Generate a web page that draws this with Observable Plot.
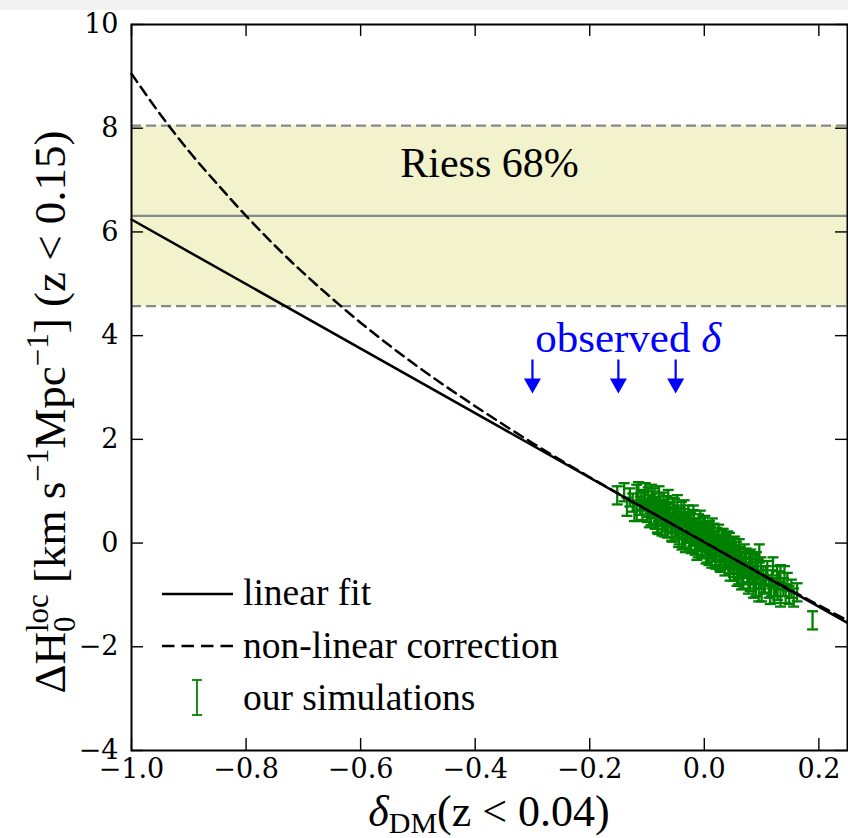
<!DOCTYPE html>
<html><head><meta charset="utf-8">
<script src="https://cdn.jsdelivr.net/npm/d3@7"></script>
<script src="https://cdn.jsdelivr.net/npm/@observablehq/plot@0.6"></script>
<style>
html,body{margin:0;padding:0;background:#f2f2f2;width:848px;height:838px;overflow:hidden;}
#bg{position:absolute;left:0;top:10px;width:848px;height:828px;background:#fff;}
#chart{position:absolute;left:0;top:0;width:848px;height:838px;}
</style></head><body><div id="bg"></div><div id="chart"></div>
<script>
// ---- data ----
const xDomain = [-1.0, 0.25];
const yDomain = [-4, 10];
const xTicks = [-1.0, -0.8, -0.6, -0.4, -0.2, 0.0, 0.2];
const yTicks = [-4, -2, 0, 2, 4, 6, 8, 10];

const fitDelta = [-1.0, 0.25];
const fitDH0 = [6.24, -1.54];

const nlDelta = [-1.0, -0.95, -0.9, -0.85, -0.8, -0.75, -0.7, -0.6, -0.5, -0.4, -0.3, -0.2, -0.1, 0.0, 0.1, 0.2, 0.25];
const nlDH0 = [9.05, 8.27, 7.56, 6.92, 6.31, 5.74, 5.21, 4.25, 3.40, 2.64, 1.93, 1.27, 0.64, 0.02, -0.60, -1.20, -1.49];

const riessCenter = 6.31;
const riessLow = 4.57;
const riessHigh = 8.05;

const observedDelta = [-0.30, -0.15, -0.05];

const simDelta = [
 -0.152,-0.125,-0.118,-0.112,-0.108,-0.105,-0.100,-0.098,
 -0.095,-0.093,-0.090,-0.088,-0.086,-0.084,-0.082,-0.080,-0.078,-0.076,-0.074,-0.072,-0.070,-0.068,-0.066,-0.064,-0.062,-0.060,-0.058,-0.056,-0.054,-0.052,-0.050,
 -0.048,-0.046,-0.044,-0.042,-0.040,-0.038,-0.036,-0.034,-0.032,-0.030,-0.028,-0.026,-0.024,-0.022,-0.020,-0.018,-0.016,-0.014,-0.012,-0.010,-0.008,-0.006,-0.004,-0.002,
 0.000,0.002,0.004,0.006,0.008,0.010,0.012,0.014,0.016,0.018,0.020,0.022,0.024,0.026,0.028,0.030,0.032,0.034,0.036,0.038,0.040,0.042,0.044,0.046,0.048,
 0.050,0.052,0.054,0.056,0.058,0.060,0.062,0.064,0.066,0.068,0.070,0.072,0.075,0.078,0.080,0.082,0.085,0.088,0.090,0.093,0.096,0.098,
 0.100,0.103,0.106,0.110,0.113,0.118,0.122,0.127,0.133,0.133,0.138,0.145,0.148,0.156,0.162,
 -0.140,-0.135,-0.130,-0.122,-0.115,-0.110,-0.103,-0.097,-0.092,-0.087,-0.083,-0.079,-0.075,-0.071,-0.067,-0.063,-0.059,-0.055,-0.051,-0.047,-0.043,-0.039,-0.035,-0.031,-0.027,-0.023,-0.019,-0.015,-0.011,-0.007,-0.003,
 0.001,0.005,0.009,0.013,0.017,0.021,0.025,0.029,0.033,0.037,0.041,0.045,0.049,0.053,0.057,0.061,0.065,0.069,0.073,0.077,0.081,0.086,0.091,0.095,0.099,
 0.108,0.115,0.120,0.125,0.130,0.140,0.152,
 -0.118,-0.106,-0.096,-0.089,-0.081,-0.077,-0.069,-0.061,-0.057,-0.049,-0.045,-0.041,-0.033,-0.029,-0.025,-0.017,-0.013,-0.009,-0.005,-0.001,
 0.003,0.007,0.011,0.015,0.019,0.023,0.027,0.031,0.035,0.039,0.043,0.047,0.051,0.055,0.059,0.063,0.067,0.071,0.079,0.084,0.089,0.094,0.104,0.117,0.128,0.142,
 0.189
];
const simDH0 = [
 0.92,0.78,0.95,0.72,0.62,0.85,0.58,0.90,
 0.75,0.52,0.82,0.65,0.45,0.70,0.38,0.60,0.78,0.50,0.32,0.66,0.44,0.55,0.73,0.28,0.48,0.62,0.36,0.20,0.52,0.68,0.40,
 0.30,0.55,0.15,0.42,0.62,0.25,0.08,0.48,0.35,0.18,0.55,0.02,0.40,0.28,0.12,0.46,-0.05,0.30,0.18,0.38,0.02,0.24,-0.12,0.32,
 0.10,-0.08,0.22,0.00,-0.25,0.15,-0.05,0.30,-0.18,0.05,-0.32,0.12,-0.10,-0.02,-0.38,0.08,-0.20,-0.08,-0.45,-0.02,-0.28,-0.15,0.02,-0.40,-0.22,
 -0.08,-0.55,-0.30,-0.15,-0.42,-0.62,-0.25,-0.50,-0.35,-0.70,-0.20,-0.45,-0.58,-0.32,-0.75,-0.48,-0.62,-0.40,-0.85,-0.55,-0.20,-0.70,
 -0.95,-0.62,-0.80,-0.52,-0.88,-0.70,-0.98,-0.62,-0.60,-1.05,-0.85,-0.75,-1.00,-1.05,-0.95,
 0.98,0.70,0.88,0.60,1.00,0.82,0.98,0.68,0.95,0.88,0.55,0.92,0.62,0.80,0.40,0.85,0.50,0.70,0.26,0.75,0.50,0.05,0.65,0.22,0.42,-0.02,0.55,0.12,-0.10,0.45,0.05,
 0.35,-0.20,0.25,-0.30,0.20,-0.15,0.18,-0.25,0.10,-0.30,0.05,-0.55,-0.35,-0.05,-0.65,-0.10,-0.72,-0.48,-0.28,-0.80,-0.30,-0.88,-0.35,-0.95,-0.45,
 -0.62,-1.00,-0.45,-0.85,-0.72,-0.62,-0.88,
 0.60,0.80,0.48,0.72,0.35,0.65,0.30,0.58,0.22,0.50,0.10,0.40,0.00,0.38,0.05,0.30,-0.15,0.20,-0.05,0.18,
 -0.22,0.10,-0.12,0.05,-0.28,-0.02,-0.35,-0.05,-0.32,-0.10,-0.42,-0.15,-0.48,-0.22,-0.52,-0.30,-0.60,-0.35,-0.62,-0.38,-0.70,-0.48,-0.78,-0.85,-0.92,-0.98,
 -1.49
];
const simErr = 0.175;

// ---- layout ----
const W = 848, H = 838, mL = 131, mR = 1, mT = 24, mB = 88;
const fw = W - mL - mR, fh = H - mT - mB;
const tickLen = 12;
const green = "#008000";
const blue = "#0000ff";
const bandGray = "#888888";
const serif = "'Liberation Serif', 'Times New Roman', serif";

const sims = simDelta.map((d, i) => ({x: d, y: simDH0[i], lo: simDH0[i] - simErr, hi: simDH0[i] + simErr}));
const fit = fitDelta.map((d, i) => ({x: d, y: fitDH0[i]}));
const nl = nlDelta.map((d, i) => ({x: d, y: nlDH0[i]}));
const band = [{x1: xDomain[0], x2: xDomain[1], lo: riessLow, hi: riessHigh}];
const obs = observedDelta.map(d => ({x: d, top: 3.53, shaftEnd: 3.15, tip: 2.885}));

const capSym = {draw(ctx) { ctx.moveTo(-5.5, 0); ctx.lineTo(5.5, 0); }};
const headSym = {draw(ctx) { ctx.moveTo(-8.5, -15); ctx.lineTo(8.5, -15); ctx.lineTo(0, 0); ctx.closePath(); }};

const plot = Plot.plot({
  width: W, height: H,
  marginLeft: mL, marginRight: mR, marginTop: mT, marginBottom: mB,
  style: {fontFamily: "'DejaVu Serif', serif", fontSize: "27px", color: "#000", background: "transparent", overflow: "visible"},
  x: {domain: xDomain},
  y: {domain: yDomain},
  marks: [
    Plot.rect(band, {x1: "x1", x2: "x2", y1: "lo", y2: "hi", fill: "#f2f2cc"}),
    Plot.ruleY([riessLow, riessHigh], {stroke: bandGray, strokeWidth: 2.2, strokeDasharray: "10,5"}),
    Plot.ruleY([riessCenter], {stroke: bandGray, strokeWidth: 2.2}),
    Plot.text([{x: -0.375, y: 7.31}], {x: "x", y: "y", text: () => "Riess 68%", fontFamily: serif, fontSize: 42, lineAnchor: "middle", textAnchor: "middle", fill: "#000"}),
    // simulations
    Plot.ruleX(sims, {x: "x", y1: "lo", y2: "hi", stroke: green, strokeWidth: 2.3}),
    Plot.dot(sims, {x: "x", y: "hi", symbol: capSym, fill: "none", stroke: green, strokeWidth: 2.3}),
    Plot.dot(sims, {x: "x", y: "lo", symbol: capSym, fill: "none", stroke: green, strokeWidth: 2.3}),
    // fits
    Plot.line(nl, {x: "x", y: "y", stroke: "#000", strokeWidth: 2.5, strokeDasharray: "10,6", curve: "catmull-rom"}),
    Plot.line(fit, {x: "x", y: "y", stroke: "#000", strokeWidth: 2.5}),
    // observed delta arrows
    Plot.ruleX(obs, {x: "x", y1: "top", y2: "shaftEnd", stroke: blue, strokeWidth: 2.2}),
    Plot.dot(obs, {x: "x", y: "tip", symbol: headSym, fill: blue, stroke: "none"}),
    // inward ticks
    Plot.tickX(xTicks, {x: d => d, insetTop: fh - tickLen, stroke: "#000", strokeWidth: 1.4}),
    Plot.tickX(xTicks, {x: d => d, insetBottom: fh - tickLen, stroke: "#000", strokeWidth: 1.4}),
    Plot.tickY(yTicks, {y: d => d, insetRight: fw - tickLen, stroke: "#000", strokeWidth: 1.4}),
    Plot.tickY(yTicks, {y: d => d, insetLeft: fw - tickLen, stroke: "#000", strokeWidth: 1.4}),
    Plot.axisX(xTicks, {tickSize: 0, tickPadding: 8, tickFormat: d3.format(".1f"), label: null, fontSize: 27}),
    Plot.axisY(yTicks, {tickSize: 0, tickPadding: 13, tickFormat: d3.format("d"), label: null, fontSize: 27}),
    Plot.frame({stroke: "#000", strokeWidth: 2})
  ]
});

const svg = d3.select(plot);
const sx = plot.scale("x"), sy = plot.scale("y");

// "observed δ" annotation
const obsText = svg.append("text")
  .attr("x", sx.apply(-0.132)).attr("y", sy.apply(3.68))
  .attr("text-anchor", "middle")
  .attr("font-family", serif).attr("font-size", 43).attr("fill", blue);
obsText.append("tspan").text("observed ");
obsText.append("tspan").attr("font-style", "italic").text("δ");

// legend (inside frame, lower left)
const lx = mL, lb = mT + fh;
const leg = svg.append("g");
leg.append("line").attr("x1", lx + 31).attr("x2", lx + 102).attr("y1", lb - 156).attr("y2", lb - 156)
  .attr("stroke", "#000").attr("stroke-width", 2.5);
leg.append("line").attr("x1", lx + 31).attr("x2", lx + 102).attr("y1", lb - 104).attr("y2", lb - 104)
  .attr("stroke", "#000").attr("stroke-width", 2.5).attr("stroke-dasharray", "12.5,7");
leg.append("line").attr("x1", lx + 66).attr("x2", lx + 66).attr("y1", lb - 70).attr("y2", lb - 35)
  .attr("stroke", green).attr("stroke-width", 1.8);
leg.append("line").attr("x1", lx + 61).attr("x2", lx + 71).attr("y1", lb - 70).attr("y2", lb - 70)
  .attr("stroke", green).attr("stroke-width", 1.8);
leg.append("line").attr("x1", lx + 61).attr("x2", lx + 71).attr("y1", lb - 35).attr("y2", lb - 35)
  .attr("stroke", green).attr("stroke-width", 1.8);
const legLabels = ["linear fit", "non-linear correction", "our simulations"];
const legBase = [-145, -92, -40];
legLabels.forEach((t, i) => {
  leg.append("text").attr("x", lx + 112).attr("y", lb + legBase[i])
    .attr("text-anchor", "start")
    .attr("font-family", serif).attr("font-size", 37.5).attr("fill", "#000").text(t);
});

// x-axis label
const xl = svg.append("text").attr("x", mL + fw / 2).attr("y", 826)
  .attr("text-anchor", "middle").attr("font-family", serif).attr("font-size", 44).attr("fill", "#000");
xl.append("tspan").attr("font-style", "italic").text("δ");
xl.append("tspan").attr("font-size", 30).attr("dy", 7).text("DM");
xl.append("tspan").attr("dy", -7).text("(z < 0.04)");

// y-axis label
const yl = svg.append("text").attr("transform", `translate(65,412) rotate(-90)`)
  .attr("text-anchor", "middle").attr("font-family", serif).attr("font-size", 45).attr("fill", "#000");
yl.append("tspan").text("ΔH");
yl.append("tspan").attr("font-size", 31).attr("dy", 10).text("0");
yl.append("tspan").attr("font-size", 31).attr("dx", -15.5).attr("dy", -27).text("loc");
yl.append("tspan").attr("dy", 17).text(" [km s");
yl.append("tspan").attr("font-size", 31).attr("dy", -17).text("−1");
yl.append("tspan").attr("dy", 17).text("Mpc");
yl.append("tspan").attr("font-size", 31).attr("dy", -17).text("−1");
yl.append("tspan").attr("dy", 17).text("] (z < 0.15)");

document.getElementById("chart").appendChild(plot);
</script>
</body></html>
